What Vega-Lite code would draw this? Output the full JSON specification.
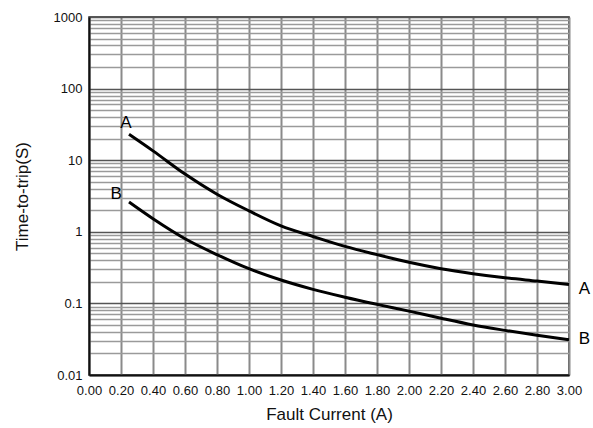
{
  "$schema": "https://vega.github.io/schema/vega-lite/v6.json",
  "width": 480,
  "height": 358,
  "autosize": {"type": "none"},
  "padding": {"left": 89, "top": 17, "right": 24, "bottom": 53},
  "background": "white",
  "config": {
    "font": "Liberation Sans",
    "view": {"stroke": "#222", "strokeWidth": 1.5}
  },
  "datasets": {
    "curves": [
      {"current": 0.25, "time": 23, "curve": "A"},
      {"current": 0.4, "time": 13.5, "curve": "A"},
      {"current": 0.6, "time": 6.4, "curve": "A"},
      {"current": 0.8, "time": 3.35, "curve": "A"},
      {"current": 1.0, "time": 1.96, "curve": "A"},
      {"current": 1.2, "time": 1.21, "curve": "A"},
      {"current": 1.4, "time": 0.86, "curve": "A"},
      {"current": 1.6, "time": 0.625, "curve": "A"},
      {"current": 1.8, "time": 0.48, "curve": "A"},
      {"current": 2.0, "time": 0.375, "curve": "A"},
      {"current": 2.2, "time": 0.305, "curve": "A"},
      {"current": 2.4, "time": 0.26, "curve": "A"},
      {"current": 2.6, "time": 0.228, "curve": "A"},
      {"current": 2.8, "time": 0.205, "curve": "A"},
      {"current": 3.0, "time": 0.184, "curve": "A"},
      {"current": 0.25, "time": 2.6, "curve": "B"},
      {"current": 0.4, "time": 1.52, "curve": "B"},
      {"current": 0.6, "time": 0.80, "curve": "B"},
      {"current": 0.8, "time": 0.48, "curve": "B"},
      {"current": 1.0, "time": 0.305, "curve": "B"},
      {"current": 1.2, "time": 0.212, "curve": "B"},
      {"current": 1.4, "time": 0.157, "curve": "B"},
      {"current": 1.6, "time": 0.122, "curve": "B"},
      {"current": 1.8, "time": 0.097, "curve": "B"},
      {"current": 2.0, "time": 0.078, "curve": "B"},
      {"current": 2.2, "time": 0.062, "curve": "B"},
      {"current": 2.4, "time": 0.050, "curve": "B"},
      {"current": 2.6, "time": 0.042, "curve": "B"},
      {"current": 2.8, "time": 0.0358, "curve": "B"},
      {"current": 3.0, "time": 0.031, "curve": "B"}
    ],
    "labels": [
      {"current": 0.23, "time": 33, "label": "A"},
      {"current": 0.17, "time": 3.35, "label": "B"},
      {"current": 3.097, "time": 0.16, "label": "A"},
      {"current": 3.097, "time": 0.032, "label": "B"}
    ]
  },
  "layer": [
    {
      "data": {"name": "curves"},
      "mark": {"type": "line", "color": "black", "strokeWidth": 3, "interpolate": "monotone"},
      "encoding": {
        "x": {
          "field": "current", "type": "quantitative",
          "scale": {"domain": [0, 3], "nice": false, "zero": false},
          "axis": {
            "title": "Fault Current (A)",
            "values": [0, 0.2, 0.4, 0.6, 0.8, 1.0, 1.2, 1.4, 1.6, 1.8, 2.0, 2.2, 2.4, 2.6, 2.8, 3.0],
            "tickCount": 40,
            "format": ".2f",
            "labelFont": "Liberation Sans", "labelFontSize": 13, "labelColor": "#111",
            "labelPadding": 9, "labelFlush": false, "labelOverlap": false,
            "ticks": false,
            "domainColor": "#111", "domainWidth": 2,
            "grid": true, "gridColor": "#8a8a8a", "gridWidth": 2,
            "titleFont": "Liberation Sans", "titleFontSize": 17, "titleFontWeight": "normal", "titleColor": "#111",
            "titlePadding": 9
          }
        },
        "y": {
          "field": "time", "type": "quantitative",
          "scale": {"type": "log", "domain": [0.01, 1000], "nice": false},
          "axis": {
            "title": "Time-to-trip(S)",
            "values": [0.01, 0.02, 0.03, 0.04, 0.05, 0.06, 0.07, 0.08, 0.09,
                       0.1, 0.2, 0.3, 0.4, 0.5, 0.6, 0.7, 0.8, 0.9,
                       1, 2, 3, 4, 5, 6, 7, 8, 9,
                       10, 20, 30, 40, 50, 60, 70, 80, 90,
                       100, 200, 300, 400, 500, 600, 700, 800, 900, 1000],
            "tickCount": 100,
            "format": "~g",
            "labelExpr": "(datum.value == 0.01 || datum.value == 0.1 || datum.value == 1 || datum.value == 10 || datum.value == 100 || datum.value == 1000) ? datum.label : ''",
            "labelFont": "Liberation Sans", "labelFontSize": 13, "labelColor": "#111",
            "labelPadding": 7, "labelOverlap": false,
            "ticks": false,
            "domainColor": "#111", "domainWidth": 2,
            "grid": true,
            "gridColor": {"condition": {"test": "datum.value == 0.01 || datum.value == 0.1 || datum.value == 1 || datum.value == 10 || datum.value == 100 || datum.value == 1000", "value": "#555"}, "value": "#9a9a9a"},
            "gridWidth": 1.5,
            "titleFont": "Liberation Sans", "titleFontSize": 17, "titleFontWeight": "normal", "titleColor": "#111",
            "titlePadding": 22
          }
        },
        "detail": {"field": "curve", "type": "nominal"}
      }
    },
    {
      "data": {"name": "labels"},
      "mark": {"type": "text", "fontSize": 17, "font": "Liberation Sans", "color": "black", "align": "center", "baseline": "middle"},
      "encoding": {
        "x": {"field": "current", "type": "quantitative"},
        "y": {"field": "time", "type": "quantitative"},
        "text": {"field": "label", "type": "nominal"}
      }
    }
  ]
}
